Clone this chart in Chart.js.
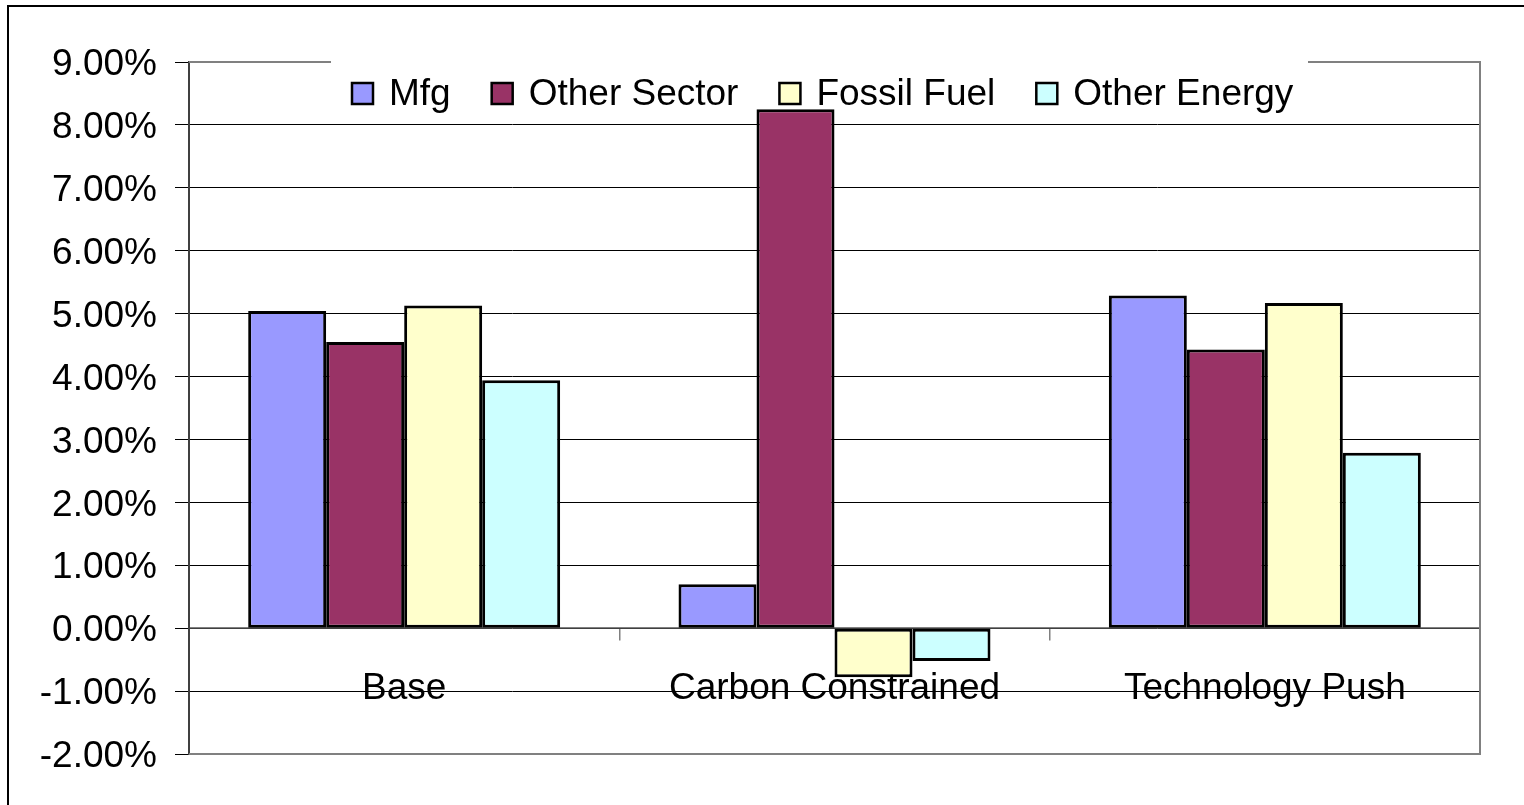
<!DOCTYPE html>
<html lang="en">
<head>
  <meta charset="UTF-8" />
  <title>Growth by scenario</title>
  <script src="https://cdn.jsdelivr.net/npm/chart.js"></script>
  <style>
    html, body { margin:0; padding:0; background:#fff; overflow:hidden; }
    #wrap { width:1524px; height:805px; position:relative; }
  </style>
</head>
<body>
<div id="wrap"><canvas id="chart"></canvas></div>

<script>
  // ---- data ----
  const categories = ['Base', 'Carbon Constrained', 'Technology Push'];
  const mfg         = [5.04, 0.70, 5.29];
  const otherSector = [4.55, 8.25, 4.43];
  const fossilFuel  = [5.13, -0.78, 5.17];
  const otherEnergy = [3.94, -0.52, 2.79];

  const seriesNames  = ['Mfg', 'Other Sector', 'Fossil Fuel', 'Other Energy'];
  const seriesColors = ['#9999FF', '#993366', '#FFFFCC', '#CCFFFF'];
  const seriesValues = [mfg, otherSector, fossilFuel, otherEnergy];

  const yMin = -2, yMax = 9, yStep = 1;

  const FONT = 'Liberation Sans, Arial, sans-serif';

  // frame, plot border and the legend box sitting inside the plot area
  const framePlugin = {
    id: 'frame',
    beforeDraw(chart) {
      const ctx = chart.ctx;
      ctx.save();
      ctx.strokeStyle = '#000';
      ctx.lineWidth = 2;
      ctx.strokeRect(8, 6, 1540, 830);
      ctx.restore();
    },
    beforeDatasetsDraw(chart) {
      const { ctx, chartArea: a } = chart;
      ctx.save();
      ctx.strokeStyle = '#808080';
      ctx.lineWidth = 2;
      ctx.beginPath();
      ctx.moveTo(a.left, a.top);
      ctx.lineTo(a.right, a.top);
      ctx.lineTo(a.right, a.bottom);
      ctx.lineTo(a.left, a.bottom);
      ctx.stroke();

      // legend
      ctx.fillStyle = '#fff';
      ctx.fillRect(331, 50, 977, 58);
      ctx.font = '37px ' + FONT;
      ctx.textBaseline = 'middle';
      let x = 352;
      const cy = 94;
      chart.data.datasets.forEach(ds => {
        ctx.fillStyle = ds.backgroundColor;
        ctx.fillRect(x, cy - 11, 21, 21);
        ctx.strokeStyle = '#000';
        ctx.lineWidth = 2.5;
        ctx.strokeRect(x, cy - 11, 21, 21);
        ctx.fillStyle = '#000';
        ctx.fillText(ds.label, x + 37, cy + 1);
        x += 37 + ctx.measureText(ds.label).width + 41;
      });
      ctx.restore();
    }
  };

  new Chart(document.getElementById('chart'), {
    type: 'bar',
    data: {
      labels: categories,
      datasets: seriesNames.map((name, i) => ({
        label: name,
        data: seriesValues[i],
        backgroundColor: seriesColors[i],
        borderColor: '#000',
        borderWidth: 3,
        borderSkipped: false,
        categoryPercentage: 0.725,
        barPercentage: 1
      }))
    },
    options: {
      responsive: true,
      maintainAspectRatio: false,
      animation: false,
      layout: { padding: { left: 0, top: 62, right: 44, bottom: 51 } },
      plugins: {
        legend: { display: false },
        tooltip: { enabled: false }
      },
      scales: {
        x: {
          position: { y: 0 },
          grid: { drawOnChartArea: false, drawTicks: true, tickLength: 12, offset: true, color: '#808080', lineWidth: 1.5 },
          border: { display: true, color: '#808080', width: 1.5 },
          ticks: { color: '#000', font: { family: FONT, size: 37 }, padding: 26, maxRotation: 0 }
        },
        y: {
          min: yMin,
          max: yMax,
          afterFit(scale) { scale.width = 189; },
          grid: { color: '#000', lineWidth: 1, tickLength: 14 },
          border: { display: true, color: '#404040', width: 2 },
          ticks: {
            stepSize: yStep,
            color: '#000',
            padding: 18,
            labelOffset: 3,
            font: { family: FONT, size: 37 },
            callback: v => v.toFixed(2) + '%'
          }
        }
      }
    },
    plugins: [framePlugin]
  });
</script>
</body>
</html>
